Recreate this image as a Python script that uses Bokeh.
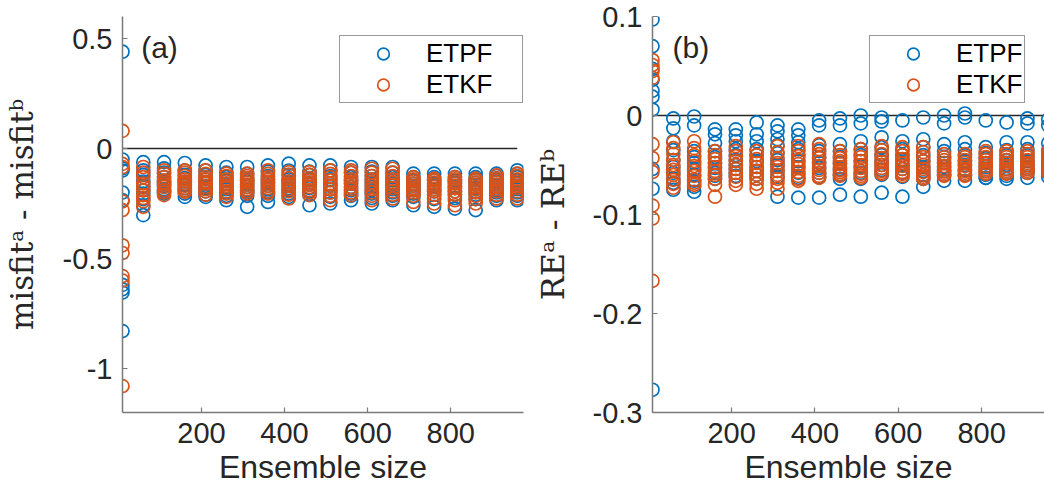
from bokeh.plotting import figure
from bokeh.layouts import row
from bokeh.models import ColumnDataSource, Range1d, Legend, LegendItem, Label, FixedTicker
from bokeh.embed import file_html
from bokeh.resources import INLINE

# ---------------- data ----------------
sizes = [10, 60, 110, 160, 210, 260, 310, 360, 410, 460,
         510, 560, 610, 660, 710, 760, 810, 860, 910, 960]

misfit_etpf = [
    [0.44, -0.05, -0.09, -0.20, -0.235, -0.62, -0.64, -0.655, -0.83, -0.10],
    [-0.062, -0.099, -0.12, -0.15, -0.17, -0.19, -0.205, -0.23, -0.258, -0.303],
    [-0.062, -0.09, -0.11, -0.13, -0.15, -0.16, -0.17, -0.185, -0.195, -0.205],
    [-0.066, -0.10, -0.12, -0.135, -0.15, -0.165, -0.18, -0.19, -0.205, -0.22],
    [-0.077, -0.10, -0.12, -0.14, -0.155, -0.17, -0.18, -0.195, -0.21, -0.22],
    [-0.084, -0.11, -0.13, -0.145, -0.16, -0.175, -0.185, -0.20, -0.215, -0.235],
    [-0.084, -0.115, -0.135, -0.15, -0.165, -0.175, -0.19, -0.20, -0.215, -0.265],
    [-0.077, -0.105, -0.125, -0.14, -0.155, -0.17, -0.185, -0.20, -0.215, -0.243],
    [-0.069, -0.10, -0.12, -0.14, -0.15, -0.165, -0.18, -0.19, -0.205, -0.22],
    [-0.077, -0.105, -0.12, -0.14, -0.155, -0.165, -0.18, -0.195, -0.21, -0.258],
    [-0.077, -0.10, -0.125, -0.14, -0.16, -0.17, -0.185, -0.20, -0.22, -0.25],
    [-0.084, -0.11, -0.13, -0.145, -0.16, -0.175, -0.19, -0.205, -0.215, -0.235],
    [-0.084, -0.105, -0.125, -0.145, -0.16, -0.175, -0.19, -0.205, -0.225, -0.25],
    [-0.084, -0.11, -0.13, -0.145, -0.16, -0.17, -0.185, -0.20, -0.215, -0.235],
    [-0.114, -0.13, -0.145, -0.16, -0.17, -0.18, -0.19, -0.205, -0.22, -0.258],
    [-0.114, -0.13, -0.145, -0.16, -0.17, -0.185, -0.195, -0.21, -0.23, -0.265],
    [-0.114, -0.13, -0.145, -0.155, -0.17, -0.18, -0.195, -0.21, -0.225, -0.273],
    [-0.114, -0.13, -0.14, -0.155, -0.165, -0.18, -0.195, -0.21, -0.23, -0.28],
    [-0.114, -0.125, -0.14, -0.15, -0.165, -0.175, -0.19, -0.20, -0.215, -0.235],
    [-0.099, -0.115, -0.13, -0.145, -0.16, -0.17, -0.185, -0.20, -0.215, -0.235],
]

misfit_etkf = [
    [0.08, -0.07, -0.085, -0.24, -0.28, -0.44, -0.475, -0.58, -0.60, -1.08],
    [-0.084, -0.11, -0.13, -0.159, -0.175, -0.19, -0.212, -0.225, -0.24, -0.265],
    [-0.099, -0.115, -0.13, -0.145, -0.155, -0.165, -0.175, -0.19, -0.20, -0.212],
    [-0.099, -0.11, -0.125, -0.14, -0.15, -0.16, -0.17, -0.18, -0.19, -0.197],
    [-0.099, -0.115, -0.13, -0.14, -0.15, -0.16, -0.175, -0.185, -0.195, -0.21],
    [-0.114, -0.125, -0.14, -0.15, -0.16, -0.17, -0.18, -0.195, -0.205, -0.22],
    [-0.114, -0.125, -0.135, -0.145, -0.155, -0.165, -0.175, -0.185, -0.195, -0.205],
    [-0.099, -0.115, -0.13, -0.14, -0.15, -0.16, -0.17, -0.18, -0.195, -0.205],
    [-0.107, -0.12, -0.135, -0.15, -0.16, -0.17, -0.185, -0.195, -0.21, -0.227],
    [-0.107, -0.12, -0.135, -0.145, -0.155, -0.165, -0.175, -0.19, -0.20, -0.212],
    [-0.099, -0.115, -0.13, -0.145, -0.16, -0.17, -0.185, -0.20, -0.215, -0.235],
    [-0.099, -0.11, -0.125, -0.14, -0.15, -0.16, -0.175, -0.185, -0.20, -0.212],
    [-0.092, -0.11, -0.125, -0.14, -0.155, -0.17, -0.185, -0.20, -0.215, -0.235],
    [-0.092, -0.11, -0.125, -0.14, -0.155, -0.165, -0.18, -0.195, -0.21, -0.227],
    [-0.13, -0.14, -0.15, -0.16, -0.17, -0.18, -0.19, -0.20, -0.215, -0.243],
    [-0.137, -0.145, -0.155, -0.165, -0.175, -0.185, -0.195, -0.21, -0.225, -0.25],
    [-0.13, -0.14, -0.15, -0.16, -0.17, -0.18, -0.195, -0.21, -0.235, -0.258],
    [-0.137, -0.145, -0.155, -0.165, -0.175, -0.185, -0.20, -0.215, -0.23, -0.25],
    [-0.122, -0.135, -0.145, -0.155, -0.165, -0.175, -0.185, -0.195, -0.21, -0.227],
    [-0.114, -0.125, -0.14, -0.15, -0.16, -0.17, -0.18, -0.195, -0.21, -0.227],
]

re_etpf = [
    [0.097, 0.070, 0.047, 0.036, 0.025, 0.019, 0.006, -0.054, -0.074, -0.277],
    [-0.003, -0.013, -0.026, -0.035, -0.045, -0.052, -0.058, -0.064, -0.068, -0.075],
    [-0.001, -0.010, -0.036, -0.042, -0.048, -0.054, -0.060, -0.066, -0.072, -0.077],
    [-0.014, -0.019, -0.028, -0.036, -0.042, -0.048, -0.053, -0.058, -0.061, -0.064],
    [-0.014, -0.020, -0.026, -0.034, -0.040, -0.045, -0.050, -0.054, -0.058, -0.061],
    [-0.007, -0.019, -0.026, -0.034, -0.040, -0.046, -0.052, -0.056, -0.060, -0.064],
    [-0.010, -0.016, -0.024, -0.030, -0.038, -0.045, -0.050, -0.056, -0.062, -0.082],
    [-0.014, -0.020, -0.027, -0.034, -0.040, -0.046, -0.052, -0.058, -0.063, -0.083],
    [-0.005, -0.010, -0.030, -0.036, -0.042, -0.048, -0.053, -0.058, -0.062, -0.083],
    [-0.003, -0.010, -0.029, -0.036, -0.042, -0.048, -0.054, -0.060, -0.064, -0.080],
    [0.000, -0.008, -0.026, -0.034, -0.040, -0.046, -0.052, -0.058, -0.064, -0.082],
    [-0.002, -0.006, -0.022, -0.032, -0.040, -0.046, -0.050, -0.055, -0.060, -0.078],
    [-0.005, -0.026, -0.034, -0.040, -0.045, -0.050, -0.054, -0.058, -0.062, -0.082],
    [-0.002, -0.024, -0.032, -0.040, -0.046, -0.052, -0.056, -0.060, -0.064, -0.072],
    [0.000, -0.008, -0.029, -0.036, -0.042, -0.048, -0.052, -0.056, -0.060, -0.066],
    [0.002, -0.002, -0.027, -0.034, -0.040, -0.046, -0.050, -0.055, -0.060, -0.066],
    [-0.005, -0.032, -0.038, -0.043, -0.048, -0.052, -0.056, -0.060, -0.063, -0.063],
    [-0.007, -0.027, -0.035, -0.040, -0.045, -0.050, -0.054, -0.058, -0.061, -0.064],
    [-0.003, -0.008, -0.027, -0.034, -0.040, -0.046, -0.050, -0.054, -0.058, -0.063],
    [-0.004, -0.010, -0.028, -0.035, -0.041, -0.046, -0.050, -0.054, -0.058, -0.062],
]

re_etkf = [
    [0.056, 0.051, 0.045, 0.038, -0.029, -0.043, -0.057, -0.091, -0.104, -0.167],
    [-0.027, -0.033, -0.039, -0.045, -0.050, -0.055, -0.060, -0.065, -0.069, -0.073],
    [-0.026, -0.033, -0.040, -0.046, -0.051, -0.056, -0.061, -0.065, -0.068, -0.070],
    [-0.036, -0.040, -0.044, -0.048, -0.052, -0.056, -0.060, -0.064, -0.070, -0.082],
    [-0.031, -0.036, -0.041, -0.046, -0.050, -0.054, -0.058, -0.062, -0.066, -0.070],
    [-0.036, -0.040, -0.044, -0.048, -0.052, -0.056, -0.060, -0.064, -0.069, -0.074],
    [-0.031, -0.037, -0.043, -0.048, -0.052, -0.056, -0.060, -0.064, -0.068, -0.074],
    [-0.031, -0.036, -0.041, -0.045, -0.049, -0.053, -0.057, -0.061, -0.064, -0.066],
    [-0.029, -0.034, -0.039, -0.043, -0.047, -0.051, -0.055, -0.058, -0.061, -0.063],
    [-0.036, -0.040, -0.043, -0.046, -0.049, -0.052, -0.055, -0.057, -0.059, -0.061],
    [-0.034, -0.038, -0.042, -0.046, -0.050, -0.053, -0.056, -0.059, -0.061, -0.063],
    [-0.031, -0.035, -0.039, -0.043, -0.047, -0.050, -0.053, -0.056, -0.058, -0.059],
    [-0.032, -0.036, -0.040, -0.044, -0.048, -0.051, -0.054, -0.057, -0.059, -0.061],
    [-0.032, -0.037, -0.042, -0.046, -0.050, -0.054, -0.057, -0.060, -0.062, -0.064],
    [-0.039, -0.042, -0.045, -0.048, -0.051, -0.054, -0.056, -0.058, -0.060, -0.061],
    [-0.039, -0.042, -0.045, -0.048, -0.051, -0.054, -0.056, -0.058, -0.060, -0.061],
    [-0.036, -0.039, -0.042, -0.045, -0.048, -0.051, -0.054, -0.056, -0.058, -0.059],
    [-0.036, -0.039, -0.042, -0.045, -0.048, -0.051, -0.054, -0.056, -0.058, -0.059],
    [-0.036, -0.039, -0.042, -0.045, -0.048, -0.050, -0.052, -0.054, -0.056, -0.058],
    [-0.036, -0.039, -0.042, -0.045, -0.048, -0.050, -0.052, -0.054, -0.056, -0.058],
]

series_names = ["ETPF", "ETKF"]
x_ticks = [200, 400, 600, 800]
y_ticks_a = [0.5, 0, -0.5, -1]
y_tick_labels_a = ["0.5", "0", "-0.5", "-1"]
y_ticks_b = [0.1, 0, -0.1, -0.2, -0.3]
y_tick_labels_b = ["0.1", "0", "-0.1", "-0.2", "-0.3"]
x_label = "Ensemble size"
y_label_a = "misfit\u1d43 - misfit\u1d47"
y_label_b = "RE\u1d43  -  RE\u1d47"
panel_tags = ["(a)", "(b)"]

# ---------------- style ----------------
BLUE = "#0072BD"
ORANGE = "#D95319"
TXT = "#262626"
AXC = "#7a7a7a"
SANS = "Liberation Sans"


def flatten(series):
    xs, ys = [], []
    for s, vals in zip(sizes, series):
        for v in vals:
            xs.append(s)
            ys.append(v)
    return xs, ys


def make_panel(width, border_left, border_right, xr, yr, yticks, ylabels,
               ylabel, ylabel_size, ylabel_standoff, s1, s2, tag, tag_x, tag_y,
               leg_label_width):
    p = figure(width=width, height=488, output_backend="svg",
               toolbar_location=None, x_range=Range1d(*xr), y_range=Range1d(*yr),
               min_border_left=border_left, min_border_right=border_right,
               min_border_top=16, min_border_bottom=76)
    p.outline_line_color = None
    p.grid.visible = False
    p.background_fill_color = "white"
    p.border_fill_color = "white"

    # zero reference line across the ensemble sizes
    p.line([sizes[0], sizes[-1]], [0, 0], line_color=TXT, line_width=1.3)

    x1, y1 = flatten(s1)
    x2, y2 = flatten(s2)
    r1 = p.scatter(x="x", y="y", source=ColumnDataSource(dict(x=x1, y=y1)),
                   marker="circle", size=13, fill_color=None,
                   line_color=BLUE, line_width=1.7)
    r2 = p.scatter(x="x", y="y", source=ColumnDataSource(dict(x=x2, y=y2)),
                   marker="circle", size=13, fill_color=None,
                   line_color=ORANGE, line_width=1.7)

    for ax in (p.xaxis[0], p.yaxis[0]):
        ax.axis_line_color = AXC
        ax.axis_line_width = 1.5
        ax.major_tick_line_color = AXC
        ax.major_tick_line_width = 1.2
        ax.major_tick_in = 5
        ax.major_tick_out = 0
        ax.minor_tick_line_color = None
        ax.major_label_text_font = SANS
        ax.major_label_text_font_size = "29px"
        ax.major_label_text_color = TXT
        ax.major_label_standoff = 10
        ax.axis_label_text_color = TXT
        ax.axis_label_text_font_style = "normal"

    p.xaxis.ticker = FixedTicker(ticks=x_ticks)
    p.xaxis.axis_label = x_label
    p.xaxis.axis_label_text_font = SANS
    p.xaxis.axis_label_text_font_size = "32px"
    p.xaxis.axis_label_standoff = 3

    p.yaxis.ticker = FixedTicker(ticks=yticks)
    p.yaxis.major_label_overrides = {t: l for t, l in zip(yticks, ylabels)}
    p.yaxis.axis_label = ylabel
    p.yaxis.axis_label_text_font = "DejaVu Serif"
    p.yaxis.axis_label_text_font_size = ylabel_size
    p.yaxis.axis_label_standoff = ylabel_standoff

    p.add_layout(Label(x=tag_x, y=tag_y, text=tag, text_font=SANS,
                       text_font_size="30px", text_color=TXT,
                       text_baseline="middle", text_align="left"))

    leg = Legend(items=[LegendItem(label=series_names[0], renderers=[r1]),
                        LegendItem(label=series_names[1], renderers=[r2])],
                 location=(217, 309))
    leg.margin = 0
    leg.padding = 2
    leg.spacing = 0
    leg.glyph_width = 82
    leg.glyph_height = 29
    leg.label_height = 29
    leg.label_width = leg_label_width
    leg.label_standoff = 2
    leg.label_text_font = SANS
    leg.label_text_font_size = "26px"
    leg.label_text_color = "black"
    leg.border_line_color = "#333333"
    leg.border_line_width = 1
    leg.background_fill_alpha = 1
    p.add_layout(leg)
    return p


pa = make_panel(530, 121, 7, (10, 975), (-1.2, 0.6), y_ticks_a, y_tick_labels_a,
                y_label_a, "31px", 20, misfit_etpf, misfit_etkf, panel_tags[0],
                55, 0.46, 94)
pb = make_panel(514, 122, 0, (10, 951), (-0.3, 0.1), y_ticks_b, y_tick_labels_b,
                y_label_b, "32px", 18, re_etpf, re_etkf, panel_tags[1],
                58, 0.069, 64)

layout = row(pa, pb, spacing=0)
open("out.html", "w").write(file_html(layout, INLINE))
